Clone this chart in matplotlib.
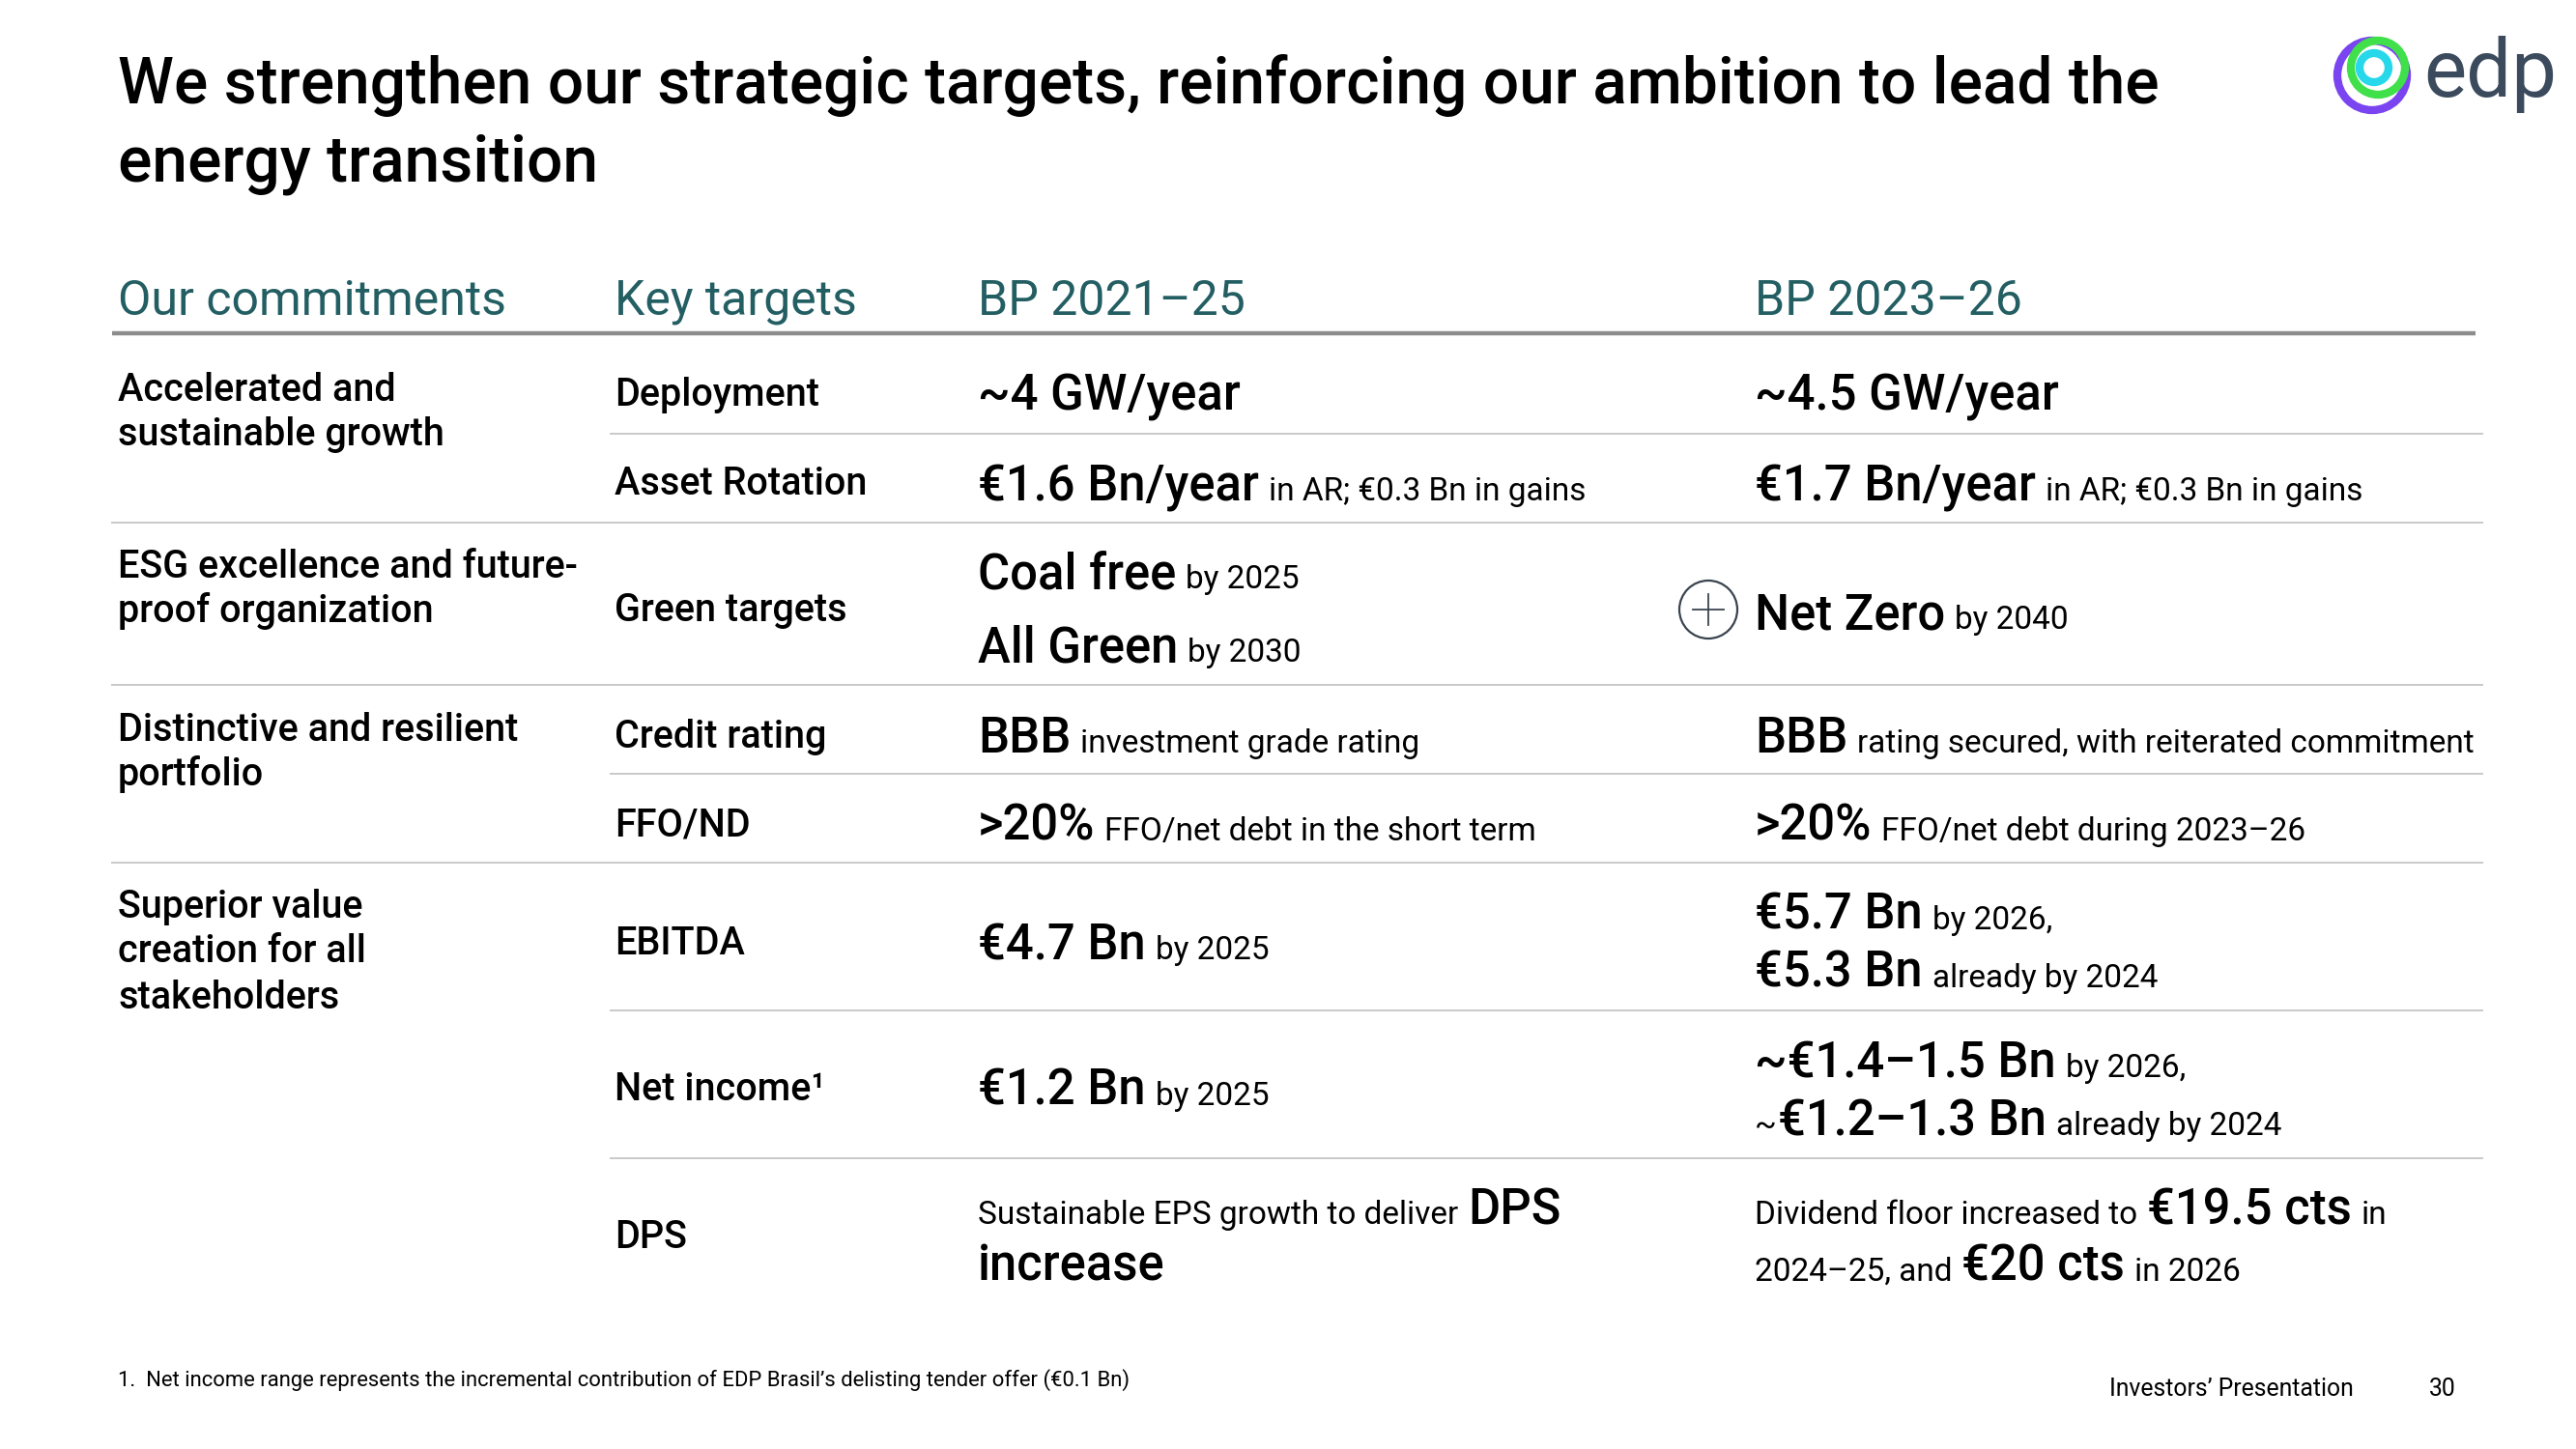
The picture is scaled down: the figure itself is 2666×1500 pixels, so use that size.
import matplotlib.pyplot as plt
from matplotlib.patches import Circle

plt.rcParams['font.family'] = ['Roboto', 'DejaVu Sans']

# --- content -------------------------------------------------------------
title_lines = ['We strengthen our strategic targets, reinforcing our ambition to lead the',
               'energy transition']
headers = ['Our commitments', 'Key targets', 'BP 2021–25', 'BP 2023–26']

commitments = [
    ['Accelerated and', 'sustainable growth'],
    ['ESG excellence and future-', 'proof organization'],
    ['Distinctive and resilient', 'portfolio'],
    ['Superior value', 'creation for all', 'stakeholders'],
]
key_targets = ['Deployment', 'Asset Rotation', 'Green targets', 'Credit rating',
               'FFO/ND', 'EBITDA', 'Net income¹', 'DPS']

# each cell: list of lines, each line a list of (text, style) runs
# B = big, s = small, t = small with no gap after it
bp2021 = [
    [[('~4 GW/year', 'B')]],
    [[('€1.6 Bn/year', 'B'), ('in AR; €0.3 Bn in gains', 's')]],
    [[('Coal free', 'B'), ('by 2025', 's')], [('All Green', 'B'), ('by 2030', 's')]],
    [[('BBB', 'B'), ('investment grade rating', 's')]],
    [[('>20%', 'B'), ('FFO/net debt in the short term', 's')]],
    [[('€4.7 Bn', 'B'), ('by 2025', 's')]],
    [[('€1.2 Bn', 'B'), ('by 2025', 's')]],
    [[('Sustainable EPS growth to deliver', 's'), ('DPS', 'B')], [('increase', 'B')]],
]
bp2023 = [
    [[('~4.5 GW/year', 'B')]],
    [[('€1.7 Bn/year', 'B'), ('in AR; €0.3 Bn in gains', 's')]],
    [[('Net Zero', 'B'), ('by 2040', 's')]],
    [[('BBB', 'B'), ('rating secured, with reiterated commitment', 's')]],
    [[('>20%', 'B'), ('FFO/net debt during 2023–26', 's')]],
    [[('€5.7 Bn', 'B'), ('by 2026,', 's')], [('€5.3 Bn', 'B'), ('already by 2024', 's')]],
    [[('~€1.4–1.5 Bn', 'B'), ('by 2026,', 's')], [('~', 't'), ('€1.2–1.3 Bn', 'B'), ('already by 2024', 's')]],
    [[('Dividend floor increased to', 's'), ('€19.5 cts', 'B'), ('in', 's')],
     [('2024–25, and', 's'), ('€20 cts', 'B'), ('in 2026', 's')]],
]
footnote = '1.  Net income range represents the incremental contribution of EDP Brasil’s delisting tender offer (€0.1 Bn)'

# --- layout (pixel units) ------------------------------------------------
W, H = 2666, 1500
cols = [122, 636, 1012, 1816]
commit_base = [[415, 461], [598, 644], [767, 813], [950, 996, 1044]]
label_base = [420, 512, 643, 774, 865, 988, 1139, 1292]
cell21_base = [[425], [518], [609, 685], [779], [870], [993], [1144], [1267, 1326]]
cell23_base = [[425], [518], [651], [779], [870], [962, 1022], [1115, 1175], [1267, 1326]]
row_lines = [(449, 632), (541, 116), (709, 116), (801, 632), (893, 116), (1046, 632), (1199, 632)]

TEAL = '#235e63'
styles = {'B': dict(fontsize=36.5, fontweight='medium'),
          's': dict(fontsize=24, fontweight='normal'),
          't': dict(fontsize=24, fontweight='normal')}
gaps = {'B': 10, 's': 10, 't': 1}

fig = plt.figure(figsize=(W / 100, H / 100), dpi=100)
ax = fig.add_axes([0, 0, 1, 1])
ax.set_xlim(0, W)
ax.set_ylim(H, 0)
ax.axis('off')
renderer = fig.canvas.get_renderer()


def draw_runs(x, y, parts):
    for txt, st in parts:
        t = ax.text(x, y, txt, va='baseline', ha='left', color='black', **styles[st])
        x += t.get_window_extent(renderer=renderer).width + gaps[st]


# title
for i, line in enumerate(title_lines):
    ax.text(122, 107 + i * 80, line, fontsize=47.3, fontweight='medium', va='baseline', color='black')

# headers
for x, h in zip(cols, headers):
    ax.text(x, 326, h, fontsize=36, color=TEAL, va='baseline')
ax.plot([116, 2562], [345, 345], color='#8c8c8c', lw=3.2, solid_capstyle='butt')

# row separators
for y, x0 in row_lines:
    ax.plot([x0, 2569], [y, y], color='#c9c9c9', lw=1.4)

# commitments
for lines, bases in zip(commitments, commit_base):
    for line, b in zip(lines, bases):
        ax.text(cols[0], b, line, fontsize=28.5, fontweight='medium', va='baseline')

# key targets
for lab, b in zip(key_targets, label_base):
    ax.text(cols[1], b, lab, fontsize=28.5, fontweight='medium', va='baseline')

# values
for cell, bases in zip(bp2021, cell21_base):
    for line, b in zip(cell, bases):
        draw_runs(cols[2], b, line)
for cell, bases in zip(bp2023, cell23_base):
    for line, b in zip(cell, bases):
        draw_runs(cols[3], b, line)

# plus icon
ax.add_patch(Circle((1768, 631), 30, fill=False, ec='#3a4450', lw=1.6))
ax.plot([1752, 1784], [631, 631], color='#3a4450', lw=1.3)
ax.plot([1768, 1768], [615, 647], color='#3a4450', lw=1.3)

# footnote and footer
ax.text(122, 1435, footnote, fontsize=15.8, va='baseline')
ax.text(2183, 1445, 'Investors’ Presentation', fontsize=17.8, va='baseline')
ax.text(2514, 1445, '30', fontsize=17.8, va='baseline')

# logo
ax.add_patch(Circle((2455, 78), 36, fill=False, ec='#7a45f0', lw=6))
ax.add_patch(Circle((2461, 70), 28, fill=False, ec='#3fe04a', lw=6))
ax.add_patch(Circle((2457, 70), 15, fill=False, ec='#27d8ea', lw=6))
ax.text(2508, 100, 'edp', fontsize=60, fontweight='normal', color='#3b4a5c', va='baseline')

fig.savefig('out.png', dpi=100)
